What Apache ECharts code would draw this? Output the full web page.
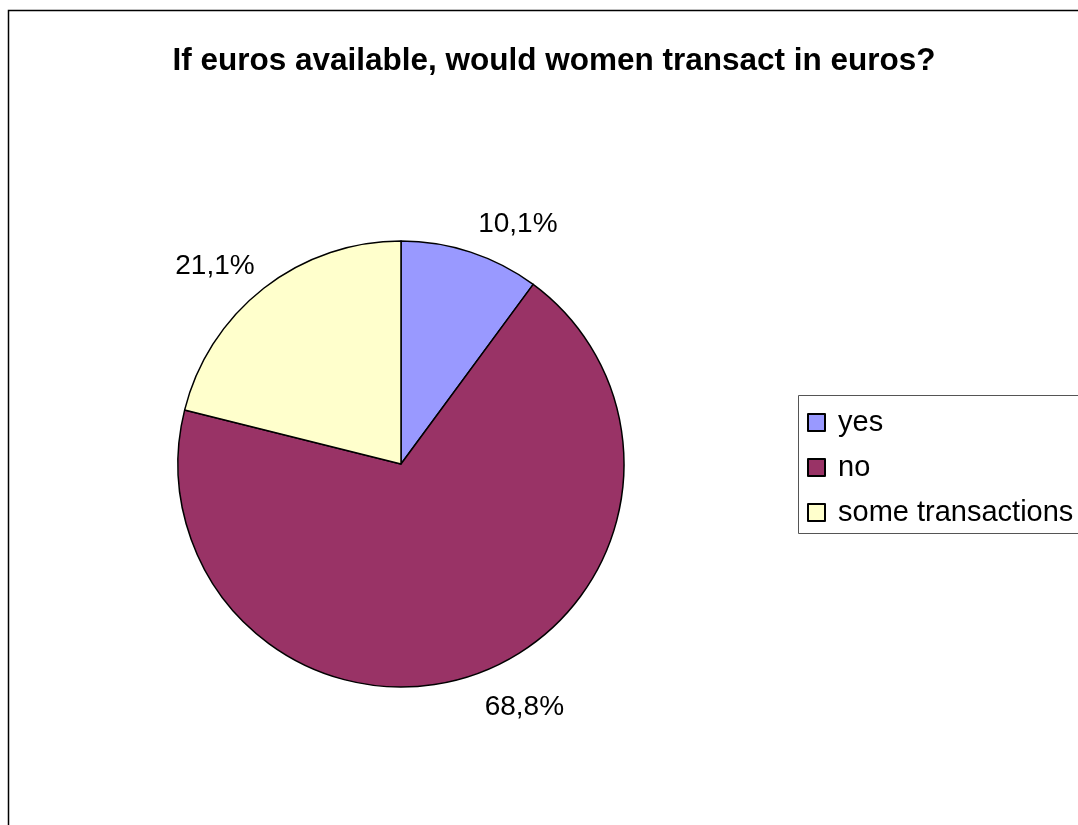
<!DOCTYPE html>
<html>
<head>
<meta charset="utf-8">
<script src="https://cdn.jsdelivr.net/npm/echarts@6/dist/echarts.min.js"></script>
<style>
  html, body { margin: 0; padding: 0; background: #fff; }
  #chart { width: 1078px; height: 825px; }
</style>
</head>
<body>
<div id="chart"></div>
<script>
// Survey answers and their shares (percent)
const categories = ['yes', 'no', 'some transactions'];
const shares = [10.1, 68.8, 21.1];
const colors = ['#9999FF', '#993366', '#FFFFCC'];
const titleText = 'If euros available, would women transact in euros?';

// small nudges of the outside value labels (px), per slice
const labelNudgeX = [-3, -3, 7];
const labelNudgeY = [-11, 17, -8];

const FONT = '"Liberation Sans", Arial, sans-serif';

const chart = echarts.init(document.getElementById('chart'));

chart.setOption({
  backgroundColor: '#ffffff',
  animation: false,
  title: {
    text: titleText,
    left: 549,
    top: 40,
    textAlign: 'center',
    textStyle: { fontFamily: FONT, fontSize: 31.5, fontWeight: 'bold', color: '#000' }
  },
  graphic: [
    // outer chart frame
    { type: 'rect', shape: { x: 8.5, y: 10.5, width: 1200, height: 1000 },
      style: { fill: null, stroke: '#000', lineWidth: 1.5 }, z: 0 },
    // legend box
    { type: 'rect', shape: { x: 798.5, y: 395.5, width: 400, height: 138 },
      style: { fill: '#fff', stroke: '#555', lineWidth: 1 }, z: 1 }
  ],
  legend: {
    orient: 'vertical',
    left: 802,
    top: 403,
    icon: 'rect',
    itemWidth: 17,
    itemHeight: 17,
    itemGap: 16,
    z: 5,
    textStyle: { fontFamily: FONT, fontSize: 29, color: '#000', lineHeight: 29, padding: [0, 0, 0, 8] },
    data: categories
  },
  series: [{
    type: 'pie',
    center: [401, 464],
    radius: 223,
    startAngle: 90,
    clockwise: true,
    z: 3,
    itemStyle: { borderColor: '#000', borderWidth: 1.5 },
    label: {
      show: true,
      position: 'outside',
      fontFamily: FONT,
      fontSize: 28,
      color: '#000',
      formatter: p => p.value.toFixed(1).replace('.', ',') + '%'
    },
    labelLine: { show: false, length: 18, length2: 0 },
    labelLayout: p => ({ dx: labelNudgeX[p.dataIndex], dy: labelNudgeY[p.dataIndex] }),
    emphasis: { disabled: true },
    data: categories.map((c, i) => ({
      name: c,
      value: shares[i],
      itemStyle: { color: colors[i] }
    }))
  }]
});
</script>
</body>
</html>
